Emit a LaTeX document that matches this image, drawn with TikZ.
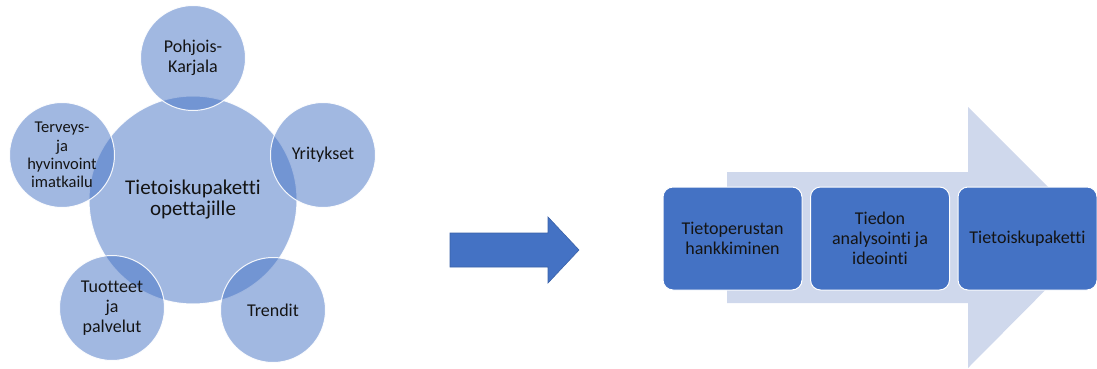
\documentclass[tikz,border=0pt]{standalone}
\usepackage{fontspec}
\setmainfont{Carlito}[Ligatures=NoCommon]
\definecolor{accent}{RGB}{68,114,196}
\definecolor{pale}{RGB}{207,216,236}
\definecolor{ink}{RGB}{20,20,20}
\begin{document}
\begin{tikzpicture}[x=1pt,y=-1pt,
  bub/.style={circle, fill=accent, fill opacity=0.5, draw=white, draw opacity=0.9, line width=1pt, text opacity=1, text=ink, align=center, inner sep=0pt},
  small/.style={bub, minimum size=105pt, font=\fontsize{18}{20}\selectfont},
  stepbox/.style={rounded corners=10pt, fill=accent, draw=white, line width=1pt, minimum width=139pt, minimum height=103pt, text=ink, align=center, font=\fontsize{18}{20}\selectfont, inner sep=0pt}
]
\useasboundingbox (0,0) rectangle (1097,369);
% left cluster
\node[bub, minimum size=208pt, font=\fontsize{21}{21}\selectfont] (hub) at (193,200) {Tietoiskupaketti\\opettajille};
\node[small] (pk) at (193,58) {Pohjois-\\Karjala};
\node[small] (yr) at (323,155) {Yritykset};
\node[small] (tr) at (273,310) {Trendit};
\node[small] (tp) at (112,308) {Tuotteet\\ja\\palvelut};
\node[small, font=\fontsize{16.5}{18.3}\selectfont] (tv) at (62,155) {Terveys-\\ja\\hyvinvoint\\imatkailu};
% middle arrow
\coordinate (a1) at (450,233);
\coordinate (a2) at (548,233);
\coordinate (a3) at (548,217);
\coordinate (a4) at (579,250);
\coordinate (a5) at (548,283);
\coordinate (a6) at (548,267);
\coordinate (a7) at (450,267);
\draw[fill=accent, draw=accent!85!black, line width=0.6pt] (a1) -- (a2) -- (a3) -- (a4) -- (a5) -- (a6) -- (a7) -- cycle;
% background process arrow
\begin{scope}
\clip (0,0) rectangle (1097,369);
\coordinate (p1) at (727,172);
\coordinate (p2) at (968,172);
\coordinate (p3) at (968,107);
\coordinate (p4) at (1098,237);
\coordinate (p5) at (968,368);
\coordinate (p6) at (968,303);
\coordinate (p7) at (727,303);
\fill[pale] (p1) -- (p2) -- (p3) -- (p4) -- (p5) -- (p6) -- (p7) -- cycle;
\end{scope}
\node[stepbox] (s1) at (732.5,238.5) {Tietoperustan\\hankkiminen};
\node[stepbox] (s2) at (880,238.5) {Tiedon\\analysointi ja\\ideointi};
\node[stepbox] (s3) at (1027.5,238.5) {Tietoiskupaketti};
\end{tikzpicture}
\end{document}
